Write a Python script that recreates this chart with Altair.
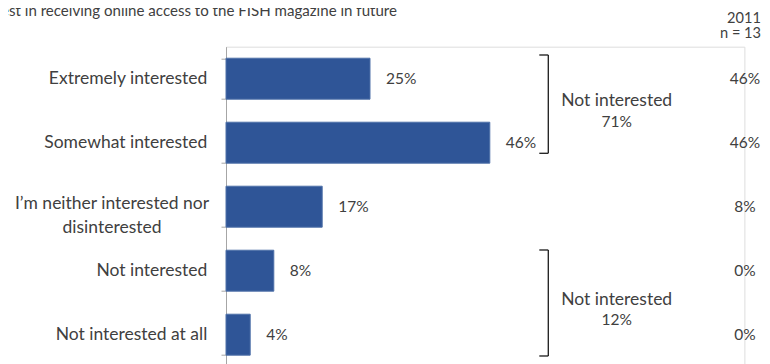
import altair as alt

# ---- data ----
categories = [
    "Extremely interested",
    "Somewhat interested",
    "I’m neither interested nor disinterested",
    "Not interested",
    "Not interested at all",
]
category_lines = [
    ["Extremely interested"],
    ["Somewhat interested"],
    ["I’m neither interested nor", "disinterested"],
    ["Not interested"],
    ["Not interested at all"],
]
share_current = [25.0, 45.8, 16.7, 8.3, 4.2]   # percent
share_2011 = [46, 46, 8, 0, 0]                 # percent
title_text = "Interest in receiving online access to the FISH magazine in future"
header_2011 = ["2011", "n = 13"]
bracket_top = ["Not interested", "71%"]
bracket_bottom = ["Not interested", "12%"]

rows = [
    {"category": c, "lines": l, "share": s / 100, "share2011": p / 100}
    for c, l, s, p in zip(categories, category_lines, share_current, share_2011)
]

FONT = "Lato"
FS = 17.5
FSN = 15.5
TXT = "#404040"
BAR = "#2F5597"

W = 518.4   # 5.76 px per percent
H = 320

data = alt.Data(values=rows)
one = alt.Data(values=[{"k": 0}])

y_enc = alt.Y(
    "category:N",
    sort=categories,
    scale=alt.Scale(paddingInner=0.36, paddingOuter=0.18),
    axis=alt.Axis(
        title=None, labels=False, tickBand="extent", ticks=True, tickSize=5,
        tickColor="#A6A6A6", domainColor="#A6A6A6", grid=False,
    ),
)
x_enc = alt.X("share:Q", scale=alt.Scale(domain=[0, 0.9]), axis=None)

bars = alt.Chart(data).mark_bar(color=BAR, stroke="#4E70A8", strokeWidth=1).encode(
    y=y_enc, x=x_enc
)
bar_labels = alt.Chart(data).mark_text(
    align="left", baseline="middle", dx=16, font=FONT, fontSize=FSN, color=TXT
).encode(y=alt.Y("category:N", sort=categories), x=x_enc, text=alt.Text("share:Q", format=".0%"))

col_2011 = alt.Chart(data).mark_text(
    align="center", baseline="middle", font=FONT, fontSize=FSN, color=TXT
).encode(y=alt.Y("category:N", sort=categories), x=alt.value(519),
         text=alt.Text("share2011:Q", format=".0%"))

cat_single = alt.Chart(data).transform_filter("length(datum.lines) == 1").mark_text(
    align="right", baseline="middle", font=FONT, fontSize=FS, color=TXT
).encode(y=alt.Y("category:N", sort=categories), x=alt.value(-18.7), text="lines:N")

cat_multi = alt.Chart(data).transform_filter("length(datum.lines) > 1").mark_text(
    align="center", baseline="middle", font=FONT, fontSize=FS, color=TXT,
    lineHeight=24, dy=-3,
).encode(y=alt.Y("category:N", sort=categories), x=alt.value(-114), text="lines:N")


def label(txt, x, y, align="center", size=FS):
    return alt.Chart(one).mark_text(
        align=align, baseline="alphabetic", font=FONT, fontSize=size, color=TXT
    ).encode(x=alt.value(x), y=alt.value(y), text=alt.value(txt))


def vrule(x, y1, y2):
    return alt.Chart(one).mark_rule(color="#1a1a1a", strokeWidth=1.3).encode(
        x=alt.value(x), y=alt.value(y1), y2=alt.value(y2))


def hrule(x1, x2, y):
    return alt.Chart(one).mark_rule(color="#1a1a1a", strokeWidth=1.3).encode(
        x=alt.value(x1), x2=alt.value(x2), y=alt.value(y))


annotations = [
    label(title_text, 171, -30.7, align="right", size=15.1),
    label(header_2011[0], 518, -24.0, size=14.6),
    label(header_2011[1], 535, -8.4, align="right", size=14.6),
    vrule(322.3, 8.3, 106.6), hrule(313.3, 322.3, 8.3), hrule(313.3, 322.3, 106.6),
    vrule(322.3, 203.3, 309.3), hrule(313.3, 322.3, 203.3), hrule(313.3, 322.3, 309.3),
    label(bracket_top[0], 390.7, 59.3), label(bracket_top[1], 390.7, 80.0, size=FSN),
    label(bracket_bottom[0], 390.7, 258.3), label(bracket_bottom[1], 390.7, 278.3, size=FSN),
]

chart = alt.layer(bars, bar_labels, col_2011, cat_single, cat_multi, *annotations).properties(
    width=W, height=H,
    autosize=alt.AutoSizeParams(type="none"),
    padding={"left": 218, "top": 38.7, "right": 17.6, "bottom": 0},
).configure_view(stroke=None).configure(background="white")

chart.save("out.html", embed_options={"renderer": "svg", "actions": False})
